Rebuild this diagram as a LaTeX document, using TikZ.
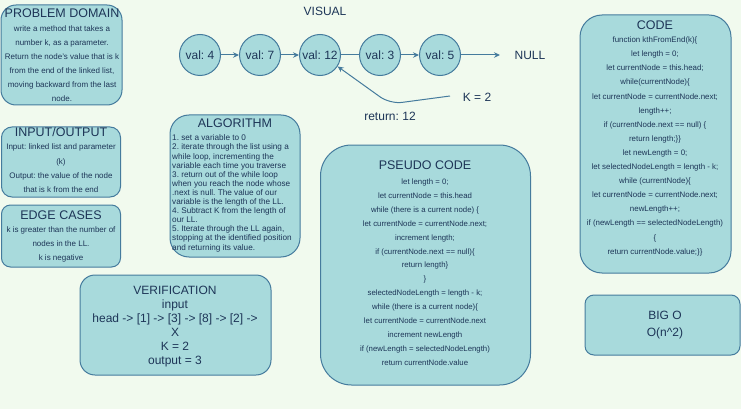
\documentclass[tikz,border=0pt]{standalone}
\usepackage{fontspec}
\setmainfont{Liberation Sans}
\usetikzlibrary{arrows.meta}
\definecolor{bgc}{HTML}{F1FAEE}
\definecolor{fillc}{HTML}{A8DADC}
\definecolor{linec}{HTML}{457B9D}
\definecolor{textc}{HTML}{1D3557}
\tikzset{
  box/.style={draw=linec, fill=fillc, line width=1pt, inner sep=0pt},
  ttl/.style={text=textc, font=\fontsize{12.5}{14}\selectfont, inner sep=0pt, anchor=base},
  bodytxt/.style={text=textc, font=\fontsize{8}{14}\selectfont, align=center, inner sep=0pt, anchor=north},
  bigtxt/.style={text=textc, font=\fontsize{12}{14}\selectfont, align=center, inner sep=0pt},
  llnode/.style={circle, draw=linec, fill=fillc, line width=1pt, minimum size=41pt, inner sep=0pt, text=textc, font=\fontsize{12}{14}\selectfont},
  link/.style={draw=linec, line width=1pt, -{Stealth[length=6pt,width=5.5pt]}},
  plainlink/.style={draw=linec, line width=1pt},
}
\frenchspacing
\begin{document}
\frenchspacing
\begin{tikzpicture}[x=1pt,y=-1pt]
\fill[bgc] (0,0) rectangle (741,409);
\useasboundingbox (0,0) rectangle (741,409);

% PROBLEM DOMAIN
\node[box, rounded corners=15pt, minimum width=121pt, minimum height=100pt] (pd) at (61.5,55) {};
\node[ttl] (pdt) at (62,17.5) {PROBLEM DOMAIN};
\node[bodytxt] (pdb) at (62,25.7) {write a method that takes a\\number k, as a parameter.\\Return the node's value that is k\\from the end of the linked list,\\moving backward from the last\\node.};

% INPUT/OUTPUT
\node[box, rounded corners=10.5pt, minimum width=119pt, minimum height=70pt] (io) at (61,162) {};
\node[ttl] (iot) at (61,136.5) {INPUT/OUTPUT};
\node[bodytxt, font=\fontsize{8}{14.4}\selectfont] (iob) at (61,143.7) {Input: linked list and parameter\\(k)\\Output: the value of the node\\that is k from the end};

% EDGE CASES
\node[box, rounded corners=9pt, minimum width=119pt, minimum height=62pt] (ec) at (61,236) {};
\node[ttl] (ect) at (61,219.5) {EDGE CASES};
\node[bodytxt, font=\fontsize{8}{13.7}\selectfont] (ecb) at (61,226.7) {k is greater than the number of\\nodes in the LL.\\k is negative};

% ALGORITHM
\node[box, rounded corners=19pt, minimum width=130pt, minimum height=142pt] (al) at (235,186) {};
\node[ttl] (alt) at (235,127.5) {ALGORITHM};
\node[text=textc, font=\fontsize{8.2}{9.1}\selectfont, align=left, inner sep=0pt, anchor=north west] (alb) at (172,134.7) {1. set a variable to 0\\2. iterate through the list using a\\while loop, incrementing the\\variable each time you traverse\\3. return out of the while loop\\when you reach the node whose\\.next is null. The value of our\\variable is the length of the LL.\\4. Subtract K from the length of\\our LL.\\5. Iterate through the LL again,\\stopping at the identified position\\and returning its value.};

% PSEUDO CODE
\node[box, rounded corners=31pt, minimum width=210pt, minimum height=240pt] (ps) at (425.5,265) {};
\node[ttl] (pst) at (425,169.5) {PSEUDO CODE};
\node[bodytxt, font=\fontsize{7.8}{13.9}\selectfont] (psb) at (425,178.7) {let length = 0;\\let currentNode = this.head\\while (there is a current node) \{\\let currentNode = currentNode.next;\\increment length;\\if (currentNode.next == null)\{\\return length\}\\\}\\selectedNodeLength = length - k;\\while (there is a current node)\{\\let currentNode = currentNode.next\\increment newLength\\if (newLength = selectedNodeLength)\\return currentNode.value};

% CODE
\node[box, rounded corners=22pt, minimum width=151pt, minimum height=258pt] (cd) at (655.5,144) {};
\node[ttl] (cdt) at (655,29.5) {CODE};
\node[bodytxt, font=\fontsize{7.9}{14.1}\selectfont] (cdb) at (655,36.7) {function kthFromEnd(k)\{\\let length = 0;\\let currentNode = this.head;\\while(currentNode)\{\\let currentNode = currentNode.next;\\length++;\\if (currentNode.next == null) \{\\return length;\}\}\\let newLength = 0;\\let selectedNodeLength = length - k;\\while (currentNode)\{\\let currentNode = currentNode.next;\\newLength++;\\if (newLength == selectedNodeLength)\\\{\\return currentNode.value;\}\}};

% VERIFICATION
\node[box, rounded corners=15pt, minimum width=191pt, minimum height=100pt] (vf) at (175.5,325) {};
\node[bigtxt, anchor=north] (vfb) at (175,285.7) {VERIFICATION\\input\\head -> [1] -> [3] -> [8] -> [2] ->\\X\\K = 2\\output = 3};

% BIG O
\node[box, rounded corners=9pt, minimum width=155pt, minimum height=60pt] (bo) at (662.5,325) {};
\node[bigtxt, anchor=north, font=\fontsize{12}{17}\selectfont] (bob) at (665,310.7) {BIG O\\O(n\^{}2)};

% VISUAL
\node[bigtxt] (vis) at (325,11) {VISUAL};
\node[llnode] (c1) at (200,55) {val: 4};
\node[llnode] (c2) at (260,55) {val: 7};
\node[llnode] (c3) at (320,55) {val: 12};
\node[llnode] (c4) at (380,55) {val: 3};
\node[llnode] (c5) at (440,55) {val: 5};
\node[bigtxt] (nul) at (530,55) {NULL};
\coordinate (nullend) at (500,55);
\draw[link] (c1) -- (c2);
\draw[link] (c2) -- (c3);
\draw[plainlink] (c3) -- (c4);
\draw[link] (c4) -- (c5);
\draw[link] (c5) -- (nullend);

\node[bigtxt] (k2) at (477,97) {K = 2};
\node[bigtxt] (ret) at (390,116) {return: 12};
\coordinate (kstart) at (450,96);
\coordinate (kbend) at (390,104);
\draw[link, rounded corners=12pt] (kstart) -- (kbend) -- (c3.-33);
\end{tikzpicture}
\end{document}
